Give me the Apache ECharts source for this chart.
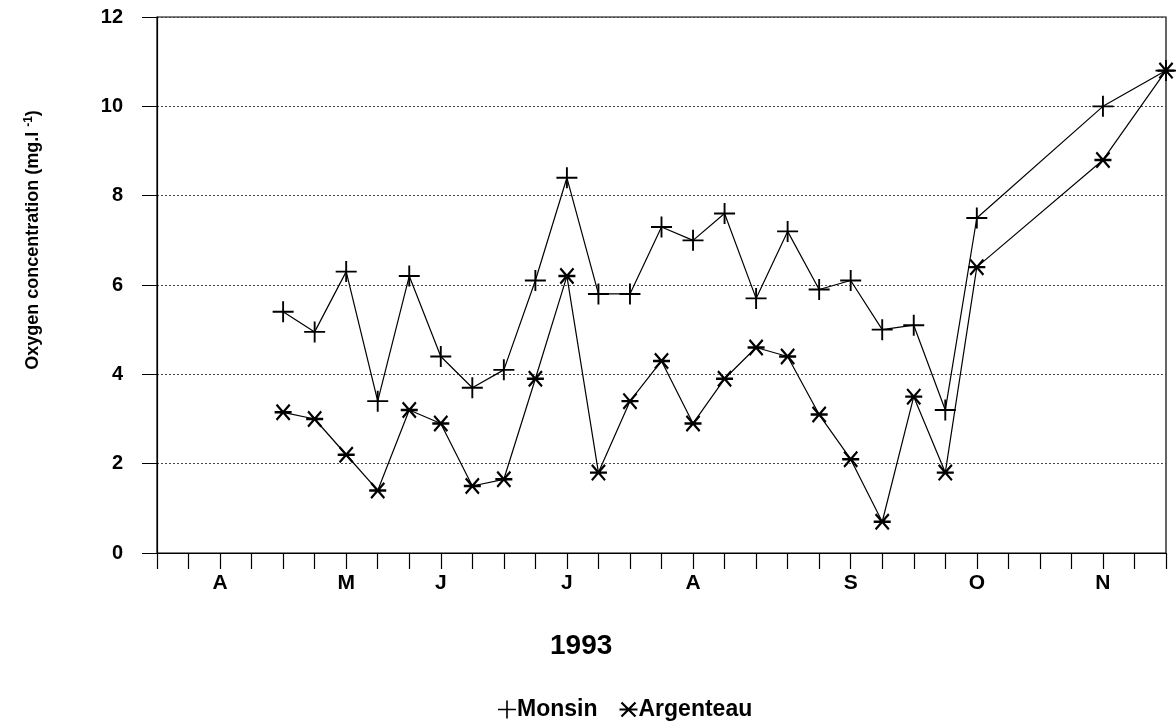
<!DOCTYPE html>
<html>
<head>
<meta charset="utf-8">
<script src="https://cdn.jsdelivr.net/npm/echarts@6/dist/echarts.min.js"></script>
<style>
html,body{margin:0;padding:0;background:#fff;}
#chart{width:1176px;height:727px;}
</style>
</head>
<body>
<div id="chart"></div>
<script>
// ---- data (x = week index on the 1993 time axis) ----
const weeks = [4,5,6,7,8,9,10,11,12,13,14,15,16,17,18,19,20,21,22,23,24,25,26,30,32];
const monsin = [5.4,4.95,6.3,3.4,6.2,4.4,3.7,4.1,6.1,8.4,5.8,5.8,7.3,7.0,7.6,5.7,7.2,5.9,6.1,5.0,5.1,3.2,7.5,10.0,10.8];
const argenteau = [3.15,3.0,2.2,1.4,3.2,2.9,1.5,1.65,3.9,6.2,1.8,3.4,4.3,2.9,3.9,4.6,4.4,3.1,2.1,0.7,3.5,1.8,6.4,8.8,10.8];
const monthTickIndex = [2,6,9,13,17,22,26,30];
const monthLabels = ['A','M','J','J','A','S','O','N'];
const yTicks = [0,2,4,6,8,10,12];
const seriesNames = ['Monsin','Argenteau'];
const yearLabel = '1993';

const plusPath = 'path://M0,9.1 L20,9.1 L20,10.9 L0,10.9 Z M9.1,0 L10.9,0 L10.9,20 L9.1,20 Z';
const starPath = 'path://M1,8.9 L19,8.9 L19,11.1 L1,11.1 Z M3.78,2.22 L17.78,16.22 L16.22,17.78 L2.22,3.78 Z M16.22,2.22 L17.78,3.78 L3.78,17.78 L2.22,16.22 Z';

const font = 'Liberation Sans, Arial, sans-serif';
const chart = echarts.init(document.getElementById('chart'));
const monthMap = {};
monthTickIndex.forEach((t,i)=>{monthMap[t]=monthLabels[i];});

chart.setOption({
  animation:false,
  backgroundColor:'#fff',
  grid:{left:157,right:10,top:17,bottom:174,show:true,borderColor:'#000',borderWidth:1.2,backgroundColor:'transparent'},
  xAxis:{
    type:'value',min:0,max:32,interval:1,
    axisLine:{lineStyle:{color:'#000',width:1.2}},
    axisTick:{show:true,length:16,lineStyle:{color:'#000',width:1.2}},
    axisLabel:{color:'#000',fontFamily:font,fontWeight:'bold',fontSize:21,margin:20,
      formatter:v=>monthMap[v]||''},
    splitLine:{show:false}
  },
  yAxis:{
    type:'value',min:yTicks[0],max:yTicks[yTicks.length-1],interval:2,
    axisLine:{show:true,lineStyle:{color:'#000',width:1.2}},
    axisTick:{show:true,length:15,lineStyle:{color:'#000',width:1}},
    axisLabel:{color:'#000',fontFamily:font,fontWeight:'bold',fontSize:20,margin:34},
    splitLine:{show:true,lineStyle:{color:'#444',type:[2,2],width:1}}
  },
  legend:{
    left:493,top:693,itemWidth:18,itemHeight:18,itemGap:22,
    textStyle:{color:'#000',fontFamily:font,fontWeight:'bold',fontSize:23,padding:[0,0,0,-4]},
    data:[{name:seriesNames[0],icon:plusPath},{name:seriesNames[1],icon:starPath}]
  },
  graphic:[
    {type:'text',left:550,top:632,style:{text:yearLabel,fill:'#000',font:'bold 28px Liberation Sans, Arial, sans-serif'}},
    {type:'text',x:33,y:240,rotation:Math.PI/2,
      style:{text:'Oxygen concentration (mg.l {sup|-1})',fill:'#000',align:'center',verticalAlign:'middle',
        font:'bold 18px Liberation Sans, Arial, sans-serif',
        rich:{sup:{font:'bold 12px Liberation Sans, Arial, sans-serif',verticalAlign:'top',padding:[0,0,9,0],fill:'#000'}}}}
  ],
  series:[
    {name:seriesNames[0],type:'line',clip:false,symbol:plusPath,symbolSize:21,
      lineStyle:{color:'#000',width:1.2},itemStyle:{color:'#000'},
      data:weeks.map((w,i)=>[w,monsin[i]])},
    {name:seriesNames[1],type:'line',clip:false,symbol:starPath,symbolSize:17,
      lineStyle:{color:'#000',width:1.2},itemStyle:{color:'#000'},
      data:weeks.map((w,i)=>[w,argenteau[i]])}
  ]
});
</script>
</body>
</html>
